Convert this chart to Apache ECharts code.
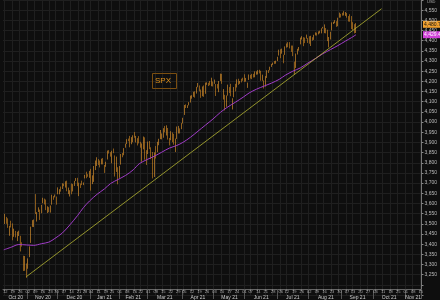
<!DOCTYPE html>
<html><head><meta charset="utf-8">
<script src="https://cdn.jsdelivr.net/npm/echarts@6/dist/echarts.min.js"></script>
<style>html,body{margin:0;padding:0;background:#0e0e0e;}#c{width:440px;height:300px;}</style>
</head><body><div id="c"></div>
<script>
// ---- calendar ----
const holidays = ['2020-11-26','2020-12-25','2021-01-01','2021-01-18','2021-02-15','2021-04-02','2021-05-31','2021-07-05','2021-09-06'];
const firstDay = '2020-10-09', lastDay = '2021-11-15';
const candleStart = '2020-10-12';
const monthNames = ['Jan','Feb','Mar','Apr','May','Jun','Jul','Aug','Sep','Oct','Nov','Dec'];

// ---- SPX daily [open, high, low, close] ----
const oct20 = [[3500,3549,3499,3534],[3534,3534,3500,3512],[3515,3527,3480,3489],[3453,3490,3441,3483],[3493,3515,3482,3484],
[3493,3502,3419,3427],[3440,3476,3436,3443],[3440,3465,3433,3436],[3439,3461,3415,3453],[3464,3466,3440,3465],
[3441,3441,3364,3401],[3403,3409,3388,3391],[3343,3343,3268,3271],[3278,3342,3269,3310],[3294,3305,3234,3270]];
const nov20 = [[3297,3330,3279,3310],[3336,3389,3336,3369],[3406,3486,3406,3443],[3485,3518,3485,3510],[3508,3521,3484,3509],
[3583,3646,3548,3550],[3544,3557,3511,3545],[3563,3581,3558,3573],[3562,3570,3519,3537],[3552,3593,3552,3585],
[3601,3628,3601,3627],[3611,3624,3595,3610],[3612,3619,3567,3568],[3559,3586,3553,3582],[3580,3582,3557,3558],
[3567,3590,3555,3578],[3594,3643,3594,3635],[3635,3636,3618,3630],[3638,3644,3630,3638],[3634,3634,3594,3622]];
const dec20 = [[3645,3679,3645,3663],[3654,3670,3645,3669],[3669,3683,3658,3667],[3671,3699,3671,3699],[3694,3698,3685,3692],
[3684,3709,3678,3702],[3706,3712,3660,3673],[3659,3678,3646,3668],[3657,3665,3634,3663],[3676,3698,3645,3647],
[3667,3695,3659,3695],[3696,3711,3686,3701],[3714,3725,3710,3722],[3722,3726,3685,3709],[3684,3702,3636,3695],
[3698,3698,3676,3687],[3693,3712,3690,3690],[3694,3703,3690,3703],[3723,3740,3723,3735],[3751,3756,3724,3727],
[3736,3744,3731,3732],[3734,3760,3726,3756]];
const jan21 = [[3764,3770,3663,3701],[3699,3738,3695,3727],[3713,3784,3706,3748],[3764,3811,3764,3804],[3815,3827,3784,3825],
[3803,3818,3789,3800],[3802,3811,3777,3801],[3802,3820,3792,3810],[3815,3823,3792,3796],[3788,3789,3750,3768],
[3782,3805,3780,3799],[3816,3860,3816,3852],[3857,3862,3845,3853],[3844,3852,3830,3841],[3852,3859,3797,3855],
[3862,3870,3847,3850],[3836,3836,3732,3751],[3755,3830,3755,3787],[3778,3778,3694,3714]];
const feb21 = [[3732,3784,3726,3774],[3791,3843,3791,3826],[3840,3848,3827,3830],[3837,3872,3837,3872],[3879,3894,3874,3887],
[3892,3916,3892,3916],[3911,3919,3906,3911],[3920,3932,3876,3910],[3916,3926,3891,3916],[3911,3935,3901,3935],
[3940,3951,3923,3933],[3919,3932,3900,3931],[3915,3921,3885,3914],[3921,3931,3895,3907],[3885,3903,3874,3877],
[3865,3895,3805,3881],[3874,3929,3866,3925],[3916,3925,3815,3829],[3839,3862,3789,3811]];
const mar21 = [[3843,3904,3843,3902],[3904,3907,3867,3870],[3864,3876,3818,3820],[3818,3853,3723,3768],[3794,3851,3730,3842],
[3844,3882,3821,3821],[3852,3903,3852,3875],[3891,3918,3886,3899],[3916,3961,3916,3939],[3924,3944,3915,3943],
[3943,3970,3923,3969],[3974,3981,3950,3963],[3949,3984,3934,3974],[3954,3971,3914,3916],[3913,3922,3885,3913],
[3916,3955,3911,3941],[3937,3949,3901,3911],[3919,3942,3889,3889],[3879,3919,3853,3910],[3917,3978,3917,3975],
[3969,3981,3944,3971],[3963,3969,3944,3959],[3968,3995,3965,3973]];
const apr21 = [[3993,4021,3993,4020],[4035,4084,4035,4078],[4075,4087,4069,4074],[4075,4083,4069,4080],[4090,4098,4082,4097],
[4096,4130,4096,4129],[4124,4132,4115,4128],[4130,4149,4124,4142],[4141,4151,4120,4125],[4140,4173,4140,4170],
[4175,4192,4171,4185],[4179,4180,4151,4163],[4159,4160,4119,4135],[4129,4175,4127,4173],[4171,4180,4124,4135],
[4139,4194,4139,4180],[4185,4195,4183,4188],[4188,4193,4177,4187],[4185,4202,4181,4183],[4207,4218,4176,4211],
[4198,4199,4175,4181]];
const may21 = [[4191,4209,4188,4193],[4179,4187,4128,4165],[4178,4187,4165,4168],[4169,4202,4147,4202],[4210,4238,4202,4233],
[4229,4237,4188,4188],[4150,4162,4111,4152],[4131,4134,4057,4063],[4075,4131,4075,4113],[4130,4184,4130,4174],
[4170,4172,4143,4163],[4169,4188,4127,4128],[4099,4117,4062,4116],[4122,4172,4122,4159],[4168,4188,4151,4156],
[4170,4210,4170,4197],[4205,4213,4183,4188],[4191,4202,4188,4196],[4202,4213,4195,4201],[4210,4218,4203,4204]];
const jun21 = [[4217,4235,4197,4202],[4207,4217,4199,4208],[4191,4194,4168,4193],[4207,4234,4207,4230],[4230,4232,4214,4227],
[4233,4237,4211,4227],[4232,4237,4219,4220],[4229,4249,4220,4239],[4243,4249,4233,4247],[4248,4255,4234,4255],
[4255,4257,4239,4247],[4249,4252,4203,4224],[4220,4233,4203,4222],[4204,4205,4165,4167],[4174,4226,4174,4225],
[4224,4255,4217,4246],[4249,4256,4241,4242],[4257,4272,4254,4267],[4274,4286,4271,4281],[4285,4292,4281,4291],
[4294,4300,4286,4292],[4291,4302,4287,4298]];
const jul21 = [[4300,4321,4300,4320],[4327,4356,4327,4352],[4356,4358,4314,4344],[4351,4361,4336,4358],[4321,4331,4289,4321],
[4330,4372,4330,4370],[4373,4386,4366,4385],[4381,4393,4368,4369],[4381,4393,4362,4374],[4370,4376,4345,4360],
[4368,4376,4324,4327],[4297,4297,4234,4259],[4266,4337,4266,4323],[4332,4360,4332,4359],[4361,4369,4351,4368],
[4382,4415,4382,4412],[4409,4422,4406,4422],[4417,4417,4373,4402],[4403,4415,4388,4401],[4410,4430,4410,4419],
[4395,4413,4389,4395]];
const aug21 = [[4406,4422,4385,4387],[4393,4424,4374,4423],[4415,4417,4400,4403],[4408,4429,4404,4429],[4429,4441,4426,4437],
[4437,4439,4425,4432],[4436,4446,4431,4437],[4442,4449,4436,4448],[4447,4461,4436,4461],[4464,4468,4460,4468],
[4462,4480,4437,4480],[4462,4462,4436,4448],[4440,4454,4398,4400],[4383,4418,4367,4406],[4410,4444,4406,4442],
[4450,4490,4450,4480],[4484,4493,4482,4486],[4490,4501,4486,4496],[4493,4496,4468,4470],[4474,4513,4471,4509],
[4513,4538,4513,4529],[4529,4532,4514,4523]];
const sep21 = [[4529,4537,4523,4524],[4535,4545,4524,4537],[4532,4541,4522,4535],[4536,4536,4513,4520],[4518,4521,4494,4514],
[4513,4530,4493,4493],[4506,4521,4457,4459],[4474,4491,4453,4469],[4479,4481,4436,4443],[4447,4486,4438,4480.70]];

// ---- moving average (weekly) ----
const maDates = ['2020-10-09','2020-10-16','2020-10-23','2020-10-30','2020-11-06','2020-11-13','2020-11-20','2020-11-27','2020-12-04','2020-12-11','2020-12-18','2020-12-24','2020-12-31',
'2021-01-08','2021-01-15','2021-01-22','2021-01-29','2021-02-05','2021-02-12','2021-02-19','2021-02-26','2021-03-05','2021-03-12','2021-03-19','2021-03-26','2021-04-01',
'2021-04-09','2021-04-16','2021-04-23','2021-04-30','2021-05-07','2021-05-14','2021-05-21','2021-05-28','2021-06-04','2021-06-11','2021-06-18','2021-06-25',
'2021-07-02','2021-07-09','2021-07-16','2021-07-23','2021-07-30','2021-08-06','2021-08-13','2021-08-20','2021-08-27','2021-09-03','2021-09-10','2021-09-15'];
const maValues = [3372,3385,3398,3396,3394,3402,3410,3428,3455,3495,3540,3580,3612,
3645,3672,3698,3718,3738,3765,3795,3815,3832,3852,3872,3885,3900,
3925,3955,3985,4015,4048,4075,4098,4122,4143,4162,4177,4192,
4210,4230,4250,4266,4290,4312,4336,4356,4376,4398,4415,4429.48];

// ---- trend line ----
const trendDates = ['2020-10-30','2021-10-08'];
const trendValues = [3240,4557];

const yMin = 3150, yMax = 4600, yStep = 50;
const tickerLabel = 'SPX';
const currencyLabel = 'USD';

function buildDays(a, b) {
  const out = []; let d = new Date(a + 'T00:00:00Z'); const e = new Date(b + 'T00:00:00Z');
  while (d <= e) { const w = d.getUTCDay(); const s = d.toISOString().slice(0, 10);
    if (w !== 0 && w !== 6 && !holidays.includes(s)) out.push(s); d = new Date(d.getTime() + 86400000); }
  return out;
}
const cats = buildDays(firstDay, lastDay);
const dow = s => new Date(s + 'T00:00:00Z').getUTCDay();
const weekStart = new Set(); const monthStart = new Set(); const monthMid = new Set();
cats.forEach((c, i) => { if (i > 0 && dow(c) <= dow(cats[i - 1])) weekStart.add(i);
  if (i > 0 && c.slice(0, 7) !== cats[i - 1].slice(0, 7)) monthStart.add(i); });
const groups = {}; cats.forEach((c, i) => { (groups[c.slice(0, 7)] = groups[c.slice(0, 7)] || []).push(i); });
Object.values(groups).forEach(g => monthMid.add(g[Math.floor(g.length / 2)]));

const rows = [].concat(oct20, nov20, dec20, jan21, feb21, mar21, apr21, may21, jun21, jul21, aug21, sep21);
const s0 = cats.indexOf(candleStart);
const candleData = [];
for (let i = 0; i < s0; i++) candleData.push('-');
rows.forEach(r => candleData.push([r[0], r[3], r[2], r[1]]));
const maData = maDates.map((d, i) => [cats.indexOf(d), maValues[i]]);
const trendData = trendDates.map((d, i) => [cats.indexOf(d), trendValues[i]]);

const FONT = 'Liberation Sans';
const chart = echarts.init(document.getElementById('c'), null, { renderer: 'canvas' });
chart.setOption({
  backgroundColor: '#0e0e0e',
  animation: false,
  grid: { left: 0, right: 17, top: -6, bottom: 4 },
  xAxis: [{
    type: 'category', data: cats, boundaryGap: true, offset: -6,
    axisLine: { show: true, lineStyle: { color: '#666', width: 1 } },
    axisTick: { show: true, length: 2, interval: (i) => weekStart.has(i), lineStyle: { color: '#777' } },
    axisLabel: { interval: (i) => weekStart.has(i), formatter: v => v.slice(8, 10), fontSize: 4, color: '#aaa', margin: 1, fontFamily: FONT },
    splitLine: { show: true, interval: (i) => weekStart.has(i), lineStyle: { color: '#1f1f1f', width: 1 } }
  }, {
    type: 'category', data: cats, boundaryGap: true, position: 'bottom', offset: -6,
    axisLine: { show: false },
    axisTick: { show: true, length: 10, interval: (i) => monthStart.has(i), lineStyle: { color: '#555' } },
    axisLabel: { interval: (i) => monthMid.has(i), formatter: v => monthNames[+v.slice(5, 7) - 1] + ' ' + v.slice(2, 4), fontSize: 5, color: '#ccc', margin: 6, fontFamily: FONT },
    splitLine: { show: false }
  }],
  yAxis: {
    type: 'value', position: 'right', min: yMin, max: yMax, interval: yStep,
    axisLine: { show: true, lineStyle: { color: '#777' } },
    axisTick: { show: true, length: 2, lineStyle: { color: '#888' } },
    axisLabel: { fontSize: 5, color: '#bbb', margin: 3, fontFamily: FONT,
      formatter: v => (v <= 3200 || v >= 4600) ? '' : v.toLocaleString('en-US') },
    splitLine: { show: true, lineStyle: { color: '#1f1f1f', width: 1 } }
  },
  series: [{
    type: 'candlestick', data: candleData, barWidth: 1.3,
    itemStyle: { color: '#f0a030', color0: '#c57a14', borderColor: '#f0a030', borderColor0: '#d88c22', borderWidth: 0.6 }
  }, {
    type: 'line', data: maData, showSymbol: false, connectNulls: true, smooth: 0.3,
    lineStyle: { color: '#a03cc8', width: 1 }, z: 3
  }, {
    type: 'line', data: trendData, showSymbol: false,
    lineStyle: { color: '#b4b432', width: 0.8 }, z: 4
  }]
});

const lastClose = rows[rows.length - 1][3];
const lastMa = maValues[maValues.length - 1];
const yC = chart.convertToPixel({ yAxisIndex: 0 }, lastClose);
const yM = chart.convertToPixel({ yAxisIndex: 0 }, lastMa);
const xAxisRight = chart.convertToPixel({ xAxisIndex: 0 }, cats.length - 1) + 1;
const fmt = v => v.toLocaleString('en-US', { minimumFractionDigits: 2, maximumFractionDigits: 2 });
chart.setOption({
  graphic: [
    { type: 'rect', left: 152, top: 73, shape: { width: 24, height: 15 }, style: { fill: 'rgba(0,0,0,0)', stroke: '#7a4e10', lineWidth: 1 } },
    { type: 'text', left: 155, top: 76.5, style: { text: tickerLabel, fill: '#e0921c', font: '8px ' + FONT } },
    { type: 'rect', left: 423, top: yC - 3.5, shape: { width: 17, height: 7 }, style: { fill: '#f0a030' } },
    { type: 'text', left: 424, top: yC - 2.5, style: { text: fmt(lastClose), fill: '#111', font: '5px ' + FONT } },
    { type: 'rect', left: 423, top: yM - 3.5, shape: { width: 17, height: 7 }, style: { fill: '#d040d8' } },
    { type: 'text', left: 424, top: yM - 2.5, style: { text: fmt(lastMa), fill: '#fff', font: '5px ' + FONT } },
    { type: 'text', left: 427, top: 0, style: { text: currencyLabel, fill: '#aaa', font: '4px ' + FONT } }
  ]
});
</script></body></html>
